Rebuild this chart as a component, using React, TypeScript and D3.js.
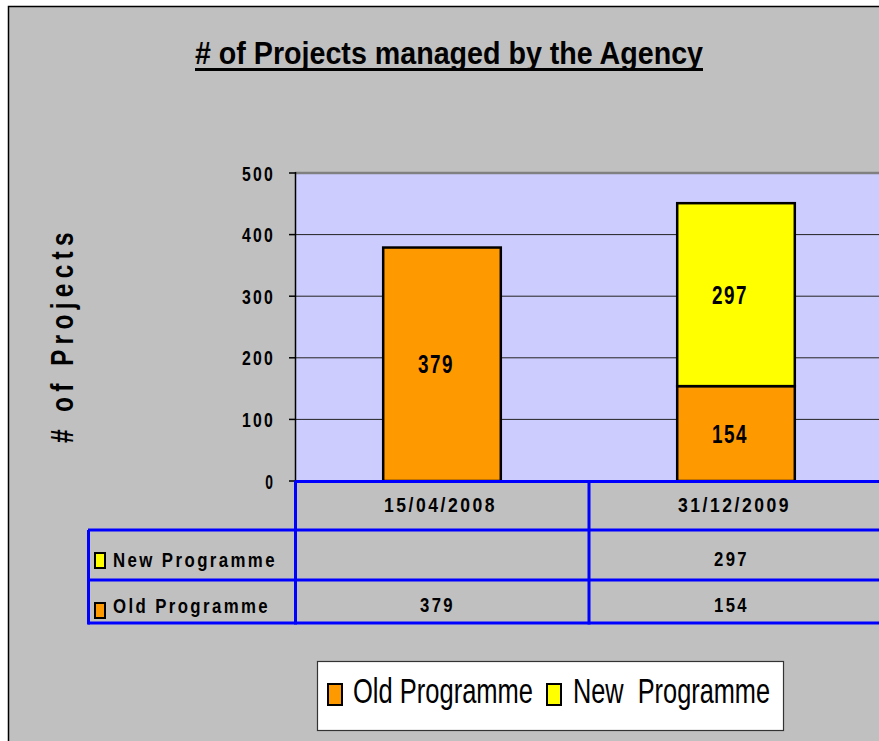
import React from "react";
import * as d3 from "d3";

const categories = ["15/04/2008", "31/12/2009"];
const seriesKeys = ["Old Programme", "New Programme"];
const oldProgramme = [379, 154];
const newProgramme: (number | null)[] = [null, 297];
const yTicks = [0, 100, 200, 300, 400, 500];
const seriesColors = ["#FF9900", "#FFFF00"];
const legendLabels = ["Old Programme", "New  Programme"];

const FONT = "'Liberation Sans', Arial, sans-serif";

function CText(props: any) {
  const { width, spacing = 0, children, ...rest } = props;
  return (
    <text
      {...rest}
      style={{ letterSpacing: `${spacing}px`, whiteSpace: "pre" }}
      textLength={width}
      lengthAdjust="spacingAndGlyphs"
    >
      {children}
    </text>
  );
}

export default function App() {
  const W = 879;
  const H = 741;
  const plotLeft = 295;
  const plotRight = 883;
  const plotTop = 173;
  const plotBottom = 481;

  const x = d3.scaleBand<string>().domain(categories).range([plotLeft, plotRight]).padding(0);
  const y = d3.scaleLinear().domain([0, 500]).range([plotBottom, plotTop]);

  const rows = categories.map((c, i) => ({
    cat: c,
    "Old Programme": oldProgramme[i],
    "New Programme": newProgramme[i] ?? 0,
  }));
  const stacked = d3.stack<any>().keys(seriesKeys)(rows);
  const barW = x.bandwidth() * 0.4;

  const tableRows = [
    { name: "New Programme", values: newProgramme, color: seriesColors[1], top: 530, base: 567, labelW: 164 },
    { name: "Old Programme", values: oldProgramme as (number | null)[], color: seriesColors[0], top: 580, base: 613, labelW: 157 },
  ];

  const blue = "#0000FF";
  const legendScale = 0.73;

  return (
    <svg width={W} height={H} style={{ position: "absolute", left: 0, top: 0 }} fontFamily={FONT}>
      <rect x={0} y={0} width={W} height={H} fill="#FFFFFF" />
      <rect x={8.5} y={6.5} width={W + 50} height={H + 50} fill="#C0C0C0" stroke="#000" strokeWidth={1.5} />

      {/* Title */}
      <CText x={195} y={64} fontSize={31} fontWeight="bold" width={508}>
        # of Projects managed by the Agency
      </CText>
      <line x1={195} x2={703} y1={69.5} y2={69.5} stroke="#000" strokeWidth={3} />

      {/* Y axis title */}
      <g transform="translate(73,443) rotate(-90)">
        <CText x={0} y={0} fontSize={32} fontWeight="bold" width={216} spacing={7}>
          # of Projects
        </CText>
      </g>

      {/* Plot area */}
      <rect x={plotLeft} y={plotTop} width={plotRight - plotLeft} height={plotBottom - plotTop} fill="#CCCCFF" />
      {yTicks.filter((t) => t > 0 && t < 500).map((t) => (
        <line key={t} x1={plotLeft} x2={plotRight} y1={y(t)} y2={y(t)} stroke="#222" strokeWidth={1} />
      ))}
      <line x1={plotLeft} x2={plotRight} y1={y(500)} y2={y(500)} stroke="#808080" strokeWidth={2.5} />
      <line x1={plotLeft + 0.5} x2={plotLeft + 0.5} y1={plotTop - 1} y2={plotBottom} stroke="#000" strokeWidth={1.5} />

      {/* Y ticks */}
      {yTicks.map((t) => {
        const s = String(t);
        const w = s.length * 11.7 - 2;
        return (
          <g key={t}>
            <line x1={plotLeft - 6} x2={plotLeft} y1={y(t)} y2={y(t)} stroke="#000" strokeWidth={1.5} />
            <CText x={275 - w} y={y(t) + 7.5} fontSize={21} fontWeight="bold" width={w} spacing={3}>
              {s}
            </CText>
          </g>
        );
      })}

      {/* Bars */}
      {stacked.map((s, si) =>
        s.map((d, i) => {
          const v = d[1] - d[0];
          if (!v) return null;
          const cx = (x(categories[i]) as number) + x.bandwidth() / 2;
          const y0 = y(d[0]);
          const y1 = y(d[1]);
          return (
            <g key={`${si}-${i}`}>
              <rect x={cx - barW / 2} y={y1} width={barW} height={y0 - y1} fill={seriesColors[si]} stroke="#000" strokeWidth={2.5} />
              <CText x={cx - 6 - 18} y={(y0 + y1) / 2 + 9} fontSize={25} fontWeight="bold" width={36} spacing={2}>
                {v}
              </CText>
            </g>
          );
        })
      )}

      {/* Data table */}
      {categories.map((c) => (
        <CText key={c} x={(x(c) as number) + x.bandwidth() / 2 - 2 - 56} y={512} fontSize={21} fontWeight="bold" width={113} spacing={3}>
          {c}
        </CText>
      ))}
      {tableRows.map((r) => (
        <g key={r.name}>
          <rect x={95} y={r.top + 23} width={10} height={15} fill={r.color} stroke="#000" strokeWidth={2} />
          <CText x={113} y={r.base} fontSize={21} fontWeight="bold" width={r.labelW} spacing={3}>
            {r.name}
          </CText>
          {categories.map((c, i) =>
            r.values[i] == null ? null : (
              <CText key={c} x={(x(c) as number) + x.bandwidth() / 2 - 5 - 17} y={r.base - 1} fontSize={21} fontWeight="bold" width={35} spacing={3}>
                {r.values[i]}
              </CText>
            )
          )}
        </g>
      ))}
      <g stroke={blue} strokeWidth={3} fill="none">
        <line x1={plotLeft} x2={plotRight} y1={plotBottom + 0.5} y2={plotBottom + 0.5} />
        <line x1={88} x2={plotRight} y1={530} y2={530} />
        <line x1={88} x2={plotRight} y1={580} y2={580} />
        <line x1={88} x2={plotRight} y1={623} y2={623} />
        <line x1={88.5} x2={88.5} y1={530} y2={624.5} />
        <line x1={plotLeft + 0.5} x2={plotLeft + 0.5} y1={plotBottom} y2={624.5} />
        <line x1={x(categories[1]) as number} x2={x(categories[1]) as number} y1={plotBottom} y2={624.5} />
      </g>

      {/* Legend */}
      <rect x={317.5} y={661.5} width={466} height={69} fill="#FFFFFF" stroke="#333" strokeWidth={1.2} />
      {[0, 1].map((i) => {
        const sx = i === 0 ? 328 : 547;
        const tx = i === 0 ? 353 : 573;
        const tw = i === 0 ? 180 : 197;
        return (
          <g key={i}>
            <rect x={sx} y={684} width={14} height={21} fill={seriesColors[i]} stroke="#000" strokeWidth={2} />
            <g transform={`translate(${tx},703) scale(${legendScale},1)`}>
              <CText x={0} y={0} fontSize={35} width={tw / legendScale}>
                {legendLabels[i]}
              </CText>
            </g>
          </g>
        );
      })}
    </svg>
  );
}
